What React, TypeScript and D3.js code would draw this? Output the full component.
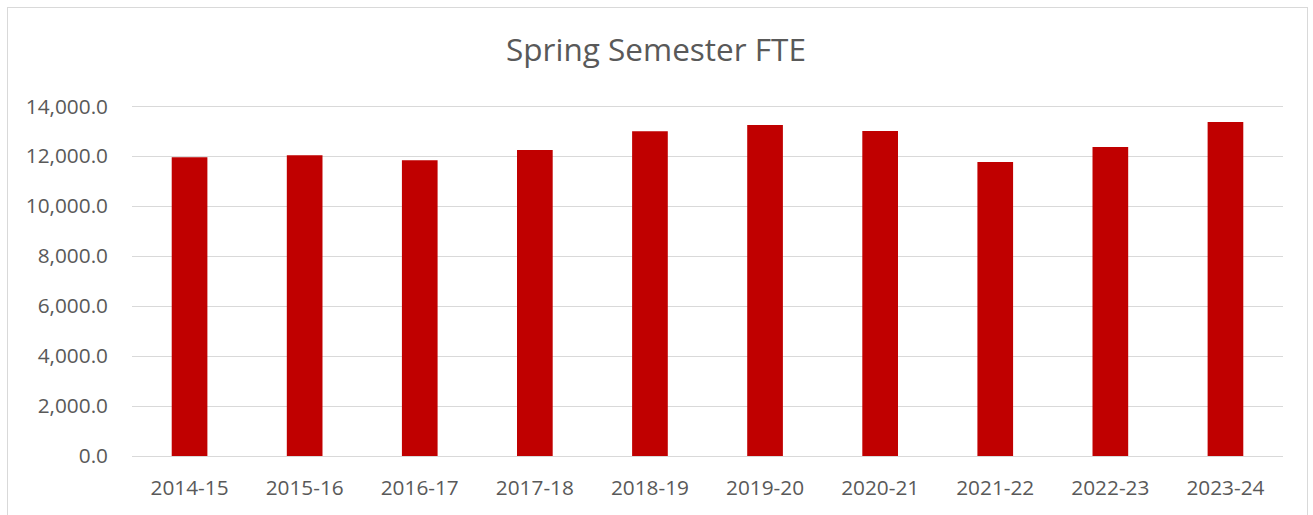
import * as d3 from 'd3';

const categories = ['2014-15', '2015-16', '2016-17', '2017-18', '2018-19', '2019-20', '2020-21', '2021-22', '2022-23', '2023-24'];
const fteValues = [11950, 12030, 11830, 12240, 12990, 13240, 13000, 11760, 12360, 13360];
const yTickValues = [0, 2000, 4000, 6000, 8000, 10000, 12000, 14000];
const title = 'Spring Semester FTE';

export default function App() {
  const width = 1313;
  const height = 515;
  const margin = { top: 106, right: 30, bottom: 59, left: 132 };
  const innerWidth = 1283 - margin.left;
  const innerHeight = 456 - margin.top;

  const x = d3.scaleBand().domain(categories).range([0, innerWidth]).paddingInner(0.69).paddingOuter(0.345);
  const y = d3.scaleLinear().domain([0, 14000]).range([innerHeight, 0]);
  const fmt = d3.format(',.1f');
  const font = "'Open Sans', 'Liberation Sans', sans-serif";

  return (
    <svg width={width} height={height} style={{ position: 'absolute', left: 0, top: 0 }}>
      <rect x={0} y={0} width={width} height={height} fill="#fff" />
      <rect x={7.5} y={7.5} width={1300} height={540} fill="#fff" stroke="#d9d9d9" strokeWidth={1} />
      <text x={656} y={61} textAnchor="middle" fill="#595959" fontSize={31.5} fontFamily={font}>
        {title}
      </text>
      <g transform={`translate(${margin.left},${margin.top})`}>
        {/* grid */}
        {yTickValues.map((t) => (
          <line key={`g-${t}`} x1={0} x2={innerWidth} y1={Math.round(y(t)) + 0.5} y2={Math.round(y(t)) + 0.5} stroke="#d9d9d9" strokeWidth={1.2} />
        ))}
        {/* bars */}
        {categories.map((c, i) => (
          <rect key={c} x={x(c)} y={y(fteValues[i])} width={x.bandwidth()} height={innerHeight - y(fteValues[i])} fill="#c00000" />
        ))}
        {/* y labels */}
        {yTickValues.map((t) => (
          <text key={`yl-${t}`} x={-24} y={y(t)} dy="0.36em" textAnchor="end" fill="#595959" fontSize={20.8} fontFamily={font}>
            {fmt(t)}
          </text>
        ))}
        {/* x labels */}
        {categories.map((c) => (
          <text key={`xl-${c}`} x={(x(c) ?? 0) + x.bandwidth() / 2} y={innerHeight + 39} textAnchor="middle" fill="#595959" fontSize={20.8} fontFamily={font}>
            {c}
          </text>
        ))}
      </g>
    </svg>
  );
}
